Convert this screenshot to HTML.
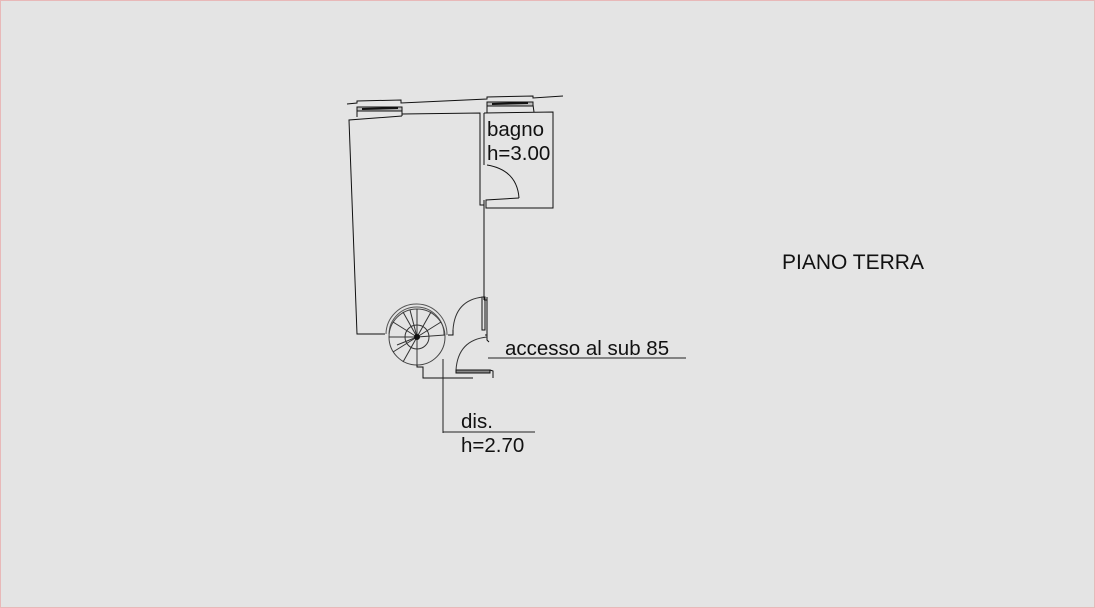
<!DOCTYPE html>
<html><head><style>
html,body{margin:0;padding:0;background:#e4e4e4;}
svg{display:block}
text{font-family:"Liberation Sans",sans-serif;fill:#111}
</style></head><body>
<svg width="1095" height="608" viewBox="0 0 1095 608">
<rect x="0.5" y="0.5" width="1094" height="607" fill="#e4e4e4" stroke="#e8b8b8"/>
<g fill="none" stroke="#111" stroke-width="1">
<polyline points="347,104 357,103 357,101 401,100 401,103 487,99 487,97 533,96 533,98 563,96"/>
<rect x="357" y="107" width="45" height="4" fill="#bbb"/>
<line x1="362" y1="109" x2="398" y2="108" stroke-width="2"/>
<line x1="357" y1="111" x2="357" y2="117"/><line x1="402" y1="111" x2="402" y2="116"/>
<rect x="487" y="102" width="46" height="4" fill="#bbb"/>
<line x1="492" y1="104" x2="528" y2="103" stroke-width="2"/>
<line x1="487" y1="106" x2="487" y2="113"/><line x1="533" y1="105" x2="534" y2="112"/>
<polyline points="402,116 349,120 357,334 385,334"/>
<polyline points="402,114 480,113 480,205 484,205"/>
<polyline points="484,113 553,112 553,208 486,208 486,200 519,198"/>
<path d="M487,165 Q517,170 519,198"/>
<line x1="484" y1="200" x2="484" y2="300"/>
<line x1="484" y1="113" x2="484" y2="165"/>
<rect x="482" y="297" width="3" height="33"/>
<line x1="484" y1="300" x2="487" y2="300"/>
<line x1="487" y1="297" x2="487" y2="335"/>
<path d="M453,330 Q455,300 483,297" stroke="#333"/>
<polyline points="448,335 453,335 453,330"/>
<polyline points="485,335 487,335 487,340 489,342"/>
<path d="M386,334 A30,30 0 0 1 447,335" stroke="#555"/>
<path d="M389,334 A27,27 0 0 1 444,335" stroke="#555"/>
<circle cx="417" cy="337" r="28" stroke="#444"/>
<g stroke="#333">
<line x1="417" y1="337" x2="417" y2="309"/><line x1="417" y1="337" x2="431" y2="312"/>
<line x1="417" y1="337" x2="441" y2="322"/><line x1="417" y1="337" x2="445" y2="335"/>
<line x1="417" y1="337" x2="403" y2="312"/><line x1="417" y1="337" x2="393" y2="322"/>
<line x1="417" y1="337" x2="389" y2="337"/><line x1="417" y1="337" x2="393" y2="352"/>
<line x1="417" y1="337" x2="403" y2="362"/><line x1="417" y1="337" x2="417" y2="365"/>
<line x1="417" y1="337" x2="410" y2="310"/><line x1="417" y1="337" x2="397" y2="345"/>
</g>
<circle cx="417" cy="337" r="12" stroke="#333"/>
<circle cx="417" cy="337" r="2.5" fill="#111"/>
<polyline points="417,365 417,367 423,367 423,378 473,378"/>
<path d="M456,370 Q458,340 487,337" stroke="#333"/>
<rect x="456" y="370" width="34" height="3" fill="#888"/>
<polyline points="490,370 493,371 493,378"/>
<line x1="443" y1="359" x2="443" y2="433" stroke="#222"/>
<line x1="443" y1="432" x2="535" y2="432" stroke="#222"/>
<line x1="488" y1="358" x2="686" y2="358" stroke="#222"/>
</g>
<text x="487" y="136" font-size="20.5">bagno</text>
<text x="487" y="160" font-size="20.5">h=3.00</text>
<text x="505" y="355" font-size="20.5">accesso al sub 85</text>
<text x="461" y="428" font-size="20.5">dis.</text>
<text x="461" y="452" font-size="20.5">h=2.70</text>
<text x="782" y="269" font-size="21">PIANO TERRA</text>
</svg>
</body></html>
